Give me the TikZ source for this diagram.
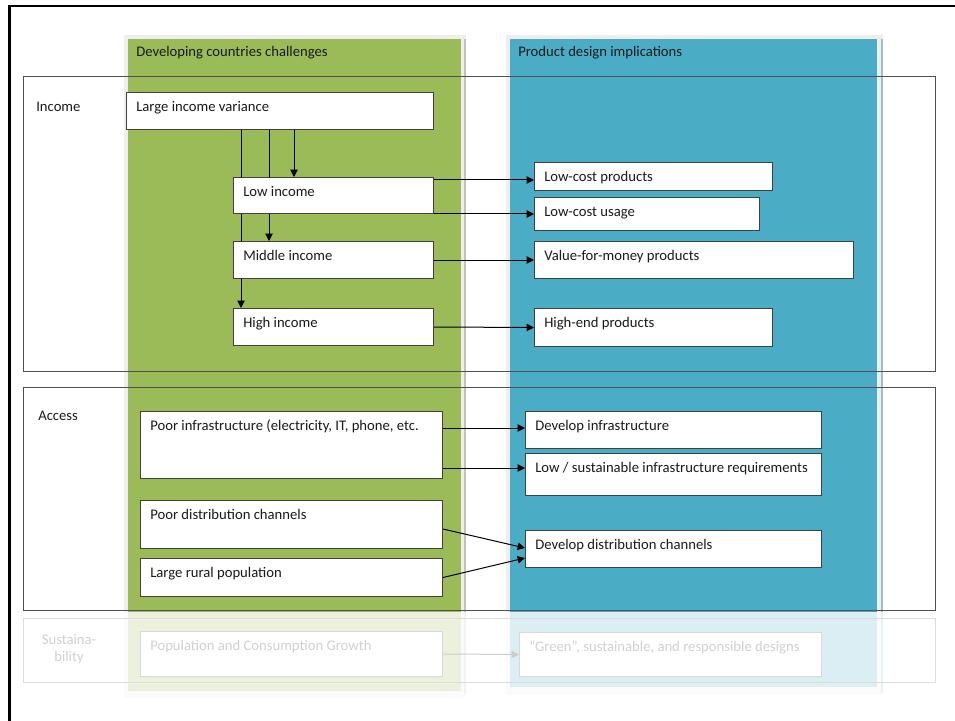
\documentclass[tikz,border=0pt]{standalone}
\usepackage{fontspec}
\setmainfont{Carlito}
\usetikzlibrary{arrows.meta,calc}
\definecolor{pgreen}{HTML}{9BBB59}
\definecolor{pblue}{HTML}{4BACC6}
\definecolor{boxline}{HTML}{404040}
\definecolor{bandline}{HTML}{505050}
\definecolor{txtc}{HTML}{1A1A1A}
\definecolor{shadec}{HTML}{EEEEEE}
\definecolor{gshadow}{HTML}{BFC4B8}
\definecolor{bshadow}{HTML}{9CBFC8}
\pgfdeclarelayer{bg}
\pgfdeclarelayer{conn}
\pgfdeclarelayer{fade}
\pgfsetlayers{bg,conn,main,fade}
\newcommand\mkbox[6]{%
  \node[bx, minimum width={(#4-#2)*0.75pt}, minimum height={(#5-#3)*0.75pt}] (#1) at (#2,#3) {};
  \node[lbl] (#1t) at ($(#1.north west)+(10,19.8)$) {#6};
}
\begin{document}
\begin{tikzpicture}[x=0.75pt,y=-0.75pt,
  font=\fontsize{11pt}{13.2pt}\selectfont,
  bx/.style={draw=boxline, fill=white, line width=0.75pt, anchor=north west, inner sep=0pt},
  lbl/.style={anchor=base west, inner sep=0pt, text=txtc},
  arr/.style={draw=black, line width=0.75pt, -{Triangle[length=5.5pt,width=5.5pt]}},
  band/.style={draw=bandline, line width=0.75pt}]
\useasboundingbox (0,0) rectangle (955,720);

\begin{pgfonlayer}{bg}
  % green panel
  \fill[shadec] (124,35) rectangle (466,698);
  \draw[gshadow, line width=1.1pt] (465,39) -- (465,694);
  \fill[pgreen] (128,39) rectangle (461,691);
  % blue panel
  \fill[shadec] (506,35) rectangle (883,695);
  \draw[bshadow, line width=1.1pt] (882,39) -- (882,693);
  \fill[pblue] (510,39) rectangle (877,687);
  % bands
  \draw[band] (23,77) rectangle (935,371);
  \draw[band] (23,387) rectangle (935,610);
  \draw[band] (23,618) rectangle (935,682);
  % outer frame
  \draw[black, line width=1.9pt] (9.5,721) -- (9.5,6.2) -- (956,6.2);
\end{pgfonlayer}

\node[lbl] (hdrG) at (136,57) {Developing countries challenges};
\node[lbl] (hdrB) at (518,57) {Product design implications};
\node[lbl] (inc) at (36,112) {Income};
\node[lbl] (acc) at (38,420) {Access};
\node[anchor=base, inner sep=0pt, text=txtc] (sus1) at (69,644) {Sustaina-};
\node[anchor=base, inner sep=0pt, text=txtc] (sus2) at (69,661.5) {bility};

\mkbox{liv}{126}{92}{433}{129}{Large income variance}
\mkbox{low}{233}{177}{433}{213}{Low income}
\mkbox{mid}{233}{241}{433}{278}{Middle income}
\mkbox{hi}{233}{308}{433}{345}{High income}
\mkbox{lcp}{534}{162}{772}{190}{Low-cost products}
\mkbox{lcu}{534}{197}{759}{230}{Low-cost usage}
\mkbox{vfm}{534}{241}{853}{278}{Value-for-money products}
\mkbox{he}{534}{308}{772}{346}{High-end products}
\mkbox{pi}{140}{411}{442}{478}{Poor infrastructure (electricity, IT, phone, etc.}
\mkbox{pd}{140}{500}{442}{548}{Poor distribution channels}
\mkbox{lr}{140}{558}{442}{596}{Large rural population}
\mkbox{di}{525}{411}{821}{448}{Develop infrastructure}
\mkbox{ls}{525}{453}{821}{495}{Low / sustainable infrastructure requirements}
\mkbox{dd}{525}{530}{821}{567}{Develop distribution channels}
\mkbox{pop}{140}{631}{442}{676}{Population and Consumption Growth}
\mkbox{grn}{519}{632}{821}{676}{“Green”, sustainable, and responsible designs}

\begin{pgfonlayer}{conn}
  \coordinate (v1) at (294,0);
  \coordinate (v2) at (269,0);
  \coordinate (v3) at (241,0);
  \coordinate (h180) at (0,180);
  \coordinate (h428) at (0,428);
  \coordinate (h468) at (0,468);
  \coordinate (h529) at (0,529);
  \coordinate (h548) at (0,548);
  \coordinate (h558) at (0,558);
  \draw[arr] (liv.south -| v1) -- (low.north -| v1);
  \draw[arr] (liv.south -| v2) -- (mid.north -| v2);
  \draw[arr] (liv.south -| v3) -- (hi.north -| v3);
  \draw[arr] (low.east |- h180) -- (lcp.west |- h180);
  \draw[arr] (low.south east) -- (lcu.west |- low.south east);
  \draw[arr] (mid.east) -- (vfm.west);
  \draw[arr] (hi.east) -- (he.west);
  \draw[arr] (pi.east |- h428) -- (di.west |- h428);
  \draw[arr] (pi.east |- h468) -- (ls.west |- h468);
  \draw[arr] (pd.east |- h529) -- (dd.west |- h548);
  \draw[arr] (lr.east) -- (dd.west |- h558);
  \draw[arr] (pop.east) -- (grn.west);
\end{pgfonlayer}

\begin{pgfonlayer}{fade}
  \fill[white, opacity=0.8] (11.5,612) rectangle (956,721);
\end{pgfonlayer}
\end{tikzpicture}
\end{document}
